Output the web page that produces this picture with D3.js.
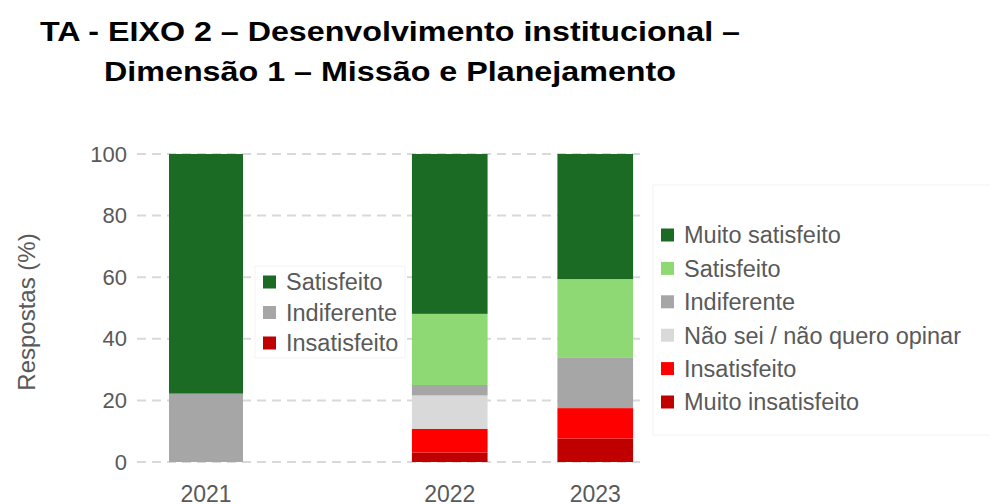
<!DOCTYPE html>
<html lang="pt">

<head>
    <meta charset="UTF-8">
    <title>TA - EIXO 2</title>
    <style>
        body {
            margin: 0;
            background-color: white;
        }

        svg {
            background-color: white;
            font-family: "Liberation Sans", Arial, sans-serif;
        }
    </style>
</head>

<body>
    <script src="https://cdn.jsdelivr.net/npm/d3@7"></script>
    <script>
        // data (percent of answers)
        const titleLines = ['TA - EIXO 2 – Desenvolvimento institucional –', 'Dimensão 1 – Missão e Planejamento'];

        // 2021 had a 3-point scale
        const years2021 = ['2021'];
        const categories2021 = ['Satisfeito', 'Indiferente', 'Insatisfeito'];
        const satisfeito2021 = [77.8];
        const indiferente2021 = [22.2];
        const insatisfeito2021 = [0];

        // 2022 and 2023 used a 6-point scale
        const years = ['2022', '2023'];
        const categories = ['Muito satisfeito', 'Satisfeito', 'Indiferente', 'Não sei / não quero opinar', 'Insatisfeito', 'Muito insatisfeito'];
        const muitoSatisfeito = [51.9, 40.6];
        const satisfeito = [23.1, 25.4];
        const indiferente = [3.4, 16.5];
        const naoSei = [10.8, 0];
        const insatisfeito = [7.7, 9.9];
        const muitoInsatisfeito = [3.1, 7.6];

        const yTicks = [0, 20, 40, 60, 80, 100];

        const colors2021 = ['#1c6b25', '#a6a6a6', '#c00000'];
        const colors = ['#1c6b25', '#8fd974', '#a6a6a6', '#d9d9d9', '#ff0000', '#c00000'];
        const textColor = '#595959';

        {
            let svg = d3.select('body')
                .append('svg')
                .attr('width', 990)
                .attr('height', 504);

            let y = d3.scaleLinear().domain([0, 100]).range([462, 154]);

            let x2021 = d3.scaleBand().domain(years2021).range([132, 280])
                .paddingInner(0.5).paddingOuter(0.25);
            let x = d3.scaleBand().domain(years).range([377, 668])
                .paddingInner(0.48).paddingOuter(0.24);

            // title
            svg.append('g')
                .selectAll('text')
                .data(titleLines)
                .join('text')
                .attr('x', 390)
                .attr('y', (d, i) => 41 + i * 40)
                .attr('text-anchor', 'middle')
                .attr('font-size', 28)
                .attr('font-weight', 'bold')
                .attr('fill', '#000')
                .attr('textLength', (d, i) => i == 0 ? 700 : 572)
                .attr('lengthAdjust', 'spacingAndGlyphs')
                .text(d => d);

            // dashed gridlines
            svg.append('g')
                .selectAll('line')
                .data(yTicks)
                .join('line')
                .attr('x1', 137)
                .attr('x2', 640)
                .attr('y1', d => y(d))
                .attr('y2', d => y(d))
                .attr('stroke', '#d9d9d9')
                .attr('stroke-width', 2)
                .attr('stroke-dasharray', '9,6');

            // y axis labels
            let yAxis = svg.append('g')
                .attr('transform', 'translate(137,0)')
                .call(d3.axisLeft(y).tickValues(yTicks).tickSize(0).tickPadding(10));
            yAxis.select('.domain').remove();
            yAxis.selectAll('text')
                .attr('font-size', 22)
                .attr('font-family', '"Liberation Sans", Arial, sans-serif')
                .attr('fill', textColor);

            svg.append('text')
                .attr('transform', 'translate(35,312) rotate(-90)')
                .attr('text-anchor', 'middle')
                .attr('font-size', 24)
                .attr('fill', textColor)
                .text('Respostas (%)');

            // 2021 stacked bar
            let rows2021 = years2021.map((yr, i) => ({
                year: yr,
                'Satisfeito': satisfeito2021[i],
                'Indiferente': indiferente2021[i],
                'Insatisfeito': insatisfeito2021[i]
            }));
            let stack2021 = d3.stack().keys(categories2021.slice().reverse())(rows2021);
            let color2021 = d3.scaleOrdinal().domain(categories2021).range(colors2021);

            svg.append('g')
                .selectAll('g')
                .data(stack2021)
                .join('g')
                .attr('fill', d => color2021(d.key))
                .selectAll('rect')
                .data(d => d)
                .join('rect')
                .attr('x', d => x2021(d.data.year))
                .attr('width', x2021.bandwidth())
                .attr('y', d => y(d[1]))
                .attr('height', d => y(d[0]) - y(d[1]));

            // 2022-2023 stacked bars
            let rows = years.map((yr, i) => ({
                year: yr,
                'Muito satisfeito': muitoSatisfeito[i],
                'Satisfeito': satisfeito[i],
                'Indiferente': indiferente[i],
                'Não sei / não quero opinar': naoSei[i],
                'Insatisfeito': insatisfeito[i],
                'Muito insatisfeito': muitoInsatisfeito[i]
            }));
            let stack = d3.stack().keys(categories.slice().reverse())(rows);
            let color = d3.scaleOrdinal().domain(categories).range(colors);

            svg.append('g')
                .selectAll('g')
                .data(stack)
                .join('g')
                .attr('fill', d => color(d.key))
                .selectAll('rect')
                .data(d => d)
                .join('rect')
                .attr('x', d => x(d.data.year))
                .attr('width', x.bandwidth())
                .attr('y', d => y(d[1]))
                .attr('height', d => y(d[0]) - y(d[1]));

            // x labels
            let xLabels = years2021.map(d => ({ t: d, cx: x2021(d) + x2021.bandwidth() / 2 }))
                .concat(years.map(d => ({ t: d, cx: x(d) + x.bandwidth() / 2 })));
            svg.append('g')
                .selectAll('text')
                .data(xLabels)
                .join('text')
                .attr('x', d => d.cx)
                .attr('y', 502)
                .attr('text-anchor', 'middle')
                .attr('font-size', 23)
                .attr('fill', textColor)
                .text(d => d.t);

            // legends
            function drawLegend(g, items, scale, box, rowH) {
                g.append('rect')
                    .attr('x', box[0])
                    .attr('y', box[1])
                    .attr('width', box[2])
                    .attr('height', box[3])
                    .attr('fill', 'white')
                    .attr('stroke', '#f3f3f3');
                let row = g.selectAll('g.item')
                    .data(items)
                    .join('g')
                    .attr('class', 'item')
                    .attr('transform', (d, i) => `translate(${box[0] + 8},${box[4] + i * rowH})`);
                row.append('rect')
                    .attr('x', 0)
                    .attr('y', -6.5)
                    .attr('width', 13)
                    .attr('height', 13)
                    .attr('fill', d => scale(d));
                row.append('text')
                    .attr('x', 23)
                    .attr('y', 0)
                    .attr('dy', '0.36em')
                    .attr('font-size', 23.5)
                    .attr('fill', textColor)
                    .text(d => d);
            }

            drawLegend(svg.append('g'), categories2021, color2021, [255, 266, 150, 92, 282], 30.5);
            drawLegend(svg.append('g'), categories, color, [653, 185, 345, 250, 235], 33.4);
        }
    </script>
</body>

</html>
